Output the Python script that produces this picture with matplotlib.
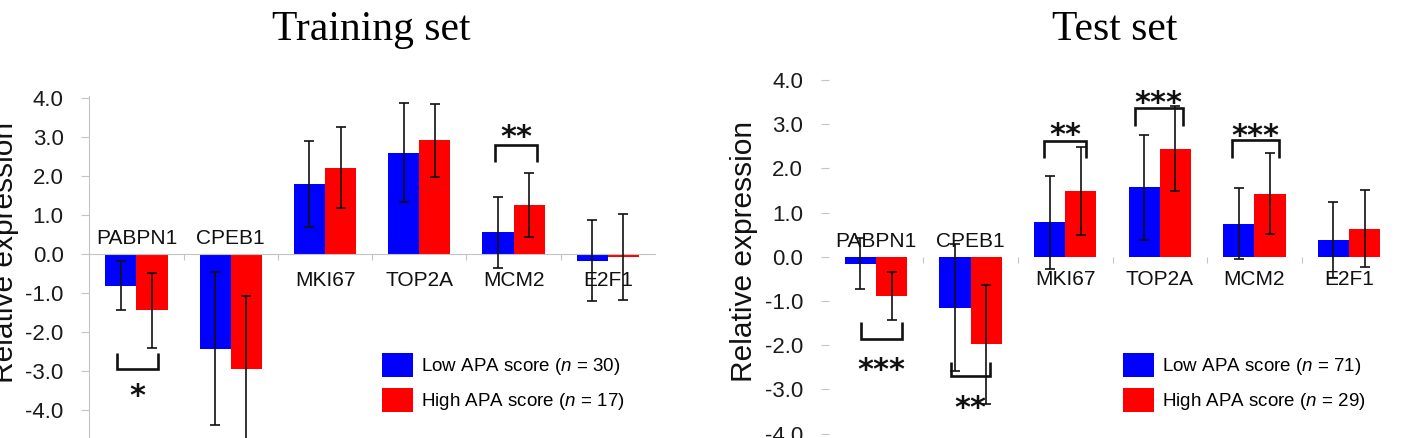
import matplotlib
matplotlib.use('Agg')
import matplotlib.pyplot as plt
from matplotlib.patches import Patch

plt.rcParams['font.family'] = ['Liberation Sans', 'DejaVu Sans']
plt.rcParams['mathtext.fontset'] = 'custom'
plt.rcParams['mathtext.it'] = 'Liberation Sans:italic'
plt.rcParams['mathtext.rm'] = 'Liberation Sans'

# ---------------- data ----------------
genes = ['PABPN1', 'CPEB1', 'MKI67', 'TOP2A', 'MCM2', 'E2F1']

train_low = [-0.82, -2.43, 1.79, 2.60, 0.56, -0.17]
train_low_err = [0.63, 1.96, 1.10, 1.28, 0.91, 1.04]
train_high = [-1.45, -2.94, 2.21, 2.91, 1.25, -0.07]
train_high_err = [0.96, 1.85, 1.04, 0.93, 0.82, 1.10]

test_low = [-0.16, -1.15, 0.78, 1.57, 0.75, 0.38]
test_low_err = [0.58, 1.43, 1.05, 1.18, 0.80, 0.86]
test_high = [-0.88, -1.98, 1.49, 2.45, 1.43, 0.64]
test_high_err = [0.54, 1.34, 1.00, 0.96, 0.91, 0.87]

train_n = (30, 17)
test_n = (71, 29)

ytick_values = [4.0, 3.0, 2.0, 1.0, 0.0, -1.0, -2.0, -3.0, -4.0]

# significance: (gene index, left offset, right offset, bracket level, bracket end, stars, star level)
train_sig = [(0, -0.205, 0.23, -2.96, -2.55, '*', -3.44),
             (4, -0.20, 0.25, 2.80, 2.37, '**', 3.19)]
test_sig = [(0, -0.16, 0.27, -1.85, -1.47, '***', -2.38),
            (1, -0.21, 0.20, -2.70, -2.38, '**', -3.24),
            (2, -0.22, 0.22, 2.62, 2.23, '**', 2.94),
            (3, -0.26, 0.24, 3.36, 2.96, '***', 3.66),
            (4, -0.24, 0.26, 2.64, 2.23, '***', 2.90)]

# ---------------- figure ----------------
W, H = 1408, 438
fig = plt.figure(figsize=(W / 100, H / 100), dpi=100)

BLUE = '#0000ff'
RED = '#ff0000'
GRAY = '#c4c4c4'


def panel(rect, ylim, low, low_err, high, high_err, sig, above_y, below_y, show_spines):
    ax = fig.add_axes(rect)
    x = list(range(len(genes)))
    w = 0.33
    xl = [i - w / 2 for i in x]
    xh = [i + w / 2 for i in x]
    ax.bar(xl, low, width=w, color=BLUE, zorder=2)
    ax.bar(xh, high, width=w, color=RED, zorder=2)
    ekw = dict(fmt='none', ecolor='#111111', elinewidth=1.2, capsize=3.3, capthick=1.2, zorder=3)
    ax.errorbar(xl, low, yerr=low_err, **ekw)
    ax.errorbar(xh, high, yerr=high_err, **ekw)

    ax.set_xlim(-0.5, len(genes) - 0.5)
    ax.set_ylim(*ylim)
    ax.set_yticks(ytick_values)
    ax.set_yticklabels([f'{v:.1f}' for v in ytick_values])
    ax.tick_params(axis='y', length=5.5, width=0.8, color=GRAY, pad=13,
                   labelsize=16, labelcolor='#1a1a1a')
    ax.set_xticks([i + 0.5 for i in x[:-1]])
    ax.set_xticklabels([])
    ax.tick_params(axis='x', length=4, width=0.8, color=GRAY, direction='out')

    ax.spines['top'].set_visible(False)
    ax.spines['right'].set_visible(False)
    ax.spines['bottom'].set_position(('data', 0))
    ax.spines['bottom'].set_color(GRAY)
    ax.spines['left'].set_color(GRAY)
    if not show_spines:
        ax.spines['bottom'].set_visible(False)
        ax.spines['left'].set_visible(False)
    ax.patch.set_alpha(0)

    for i, g in enumerate(genes):
        yy = above_y if min(low[i], high[i]) < -0.5 else below_y
        ax.text(i, yy, g, ha='center', va='center', fontsize=15, color='#111111', zorder=4)

    for gi, o0, o1, ybar, yend, stars, ystar in sig:
        x0, x1 = gi + o0, gi + o1
        ax.plot([x0, x0, x1, x1], [yend, ybar, ybar, yend], color='#111111', lw=1.9,
                solid_joinstyle='miter', solid_capstyle='butt', zorder=5)
        ax.annotate(stars, xy=((x0 + x1) / 2, ystar), xytext=(0, -12.1),
                    textcoords='offset points', ha='center', va='baseline',
                    fontsize=22, fontfamily='DejaVu Sans', fontweight='bold', color='#111111')
    return ax


# left panel: x 89.3..655 px, y zero at 254, 39 px/unit
ax1 = panel([89.3 / W, 0, (655 - 89.3) / W, (438 - 96) / H], (-4.72, 4.05),
            train_low, train_low_err, train_high, train_high_err, train_sig,
            0.40, -0.69, True)
# right panel: x 828.7..1396.3 px, y zero at 256.7, 44.2 px/unit
ax2 = panel([828.7 / W, 0, (1396.3 - 828.7) / W, (438 - 80) / H], (-4.1, 4.0),
            test_low, test_low_err, test_high, test_high_err, test_sig,
            0.34, -0.51, False)

# titles
fig.text(371.7 / W, 1 - 40 / H, 'Training set', ha='center', va='baseline',
         fontsize=30, family='Liberation Serif')
fig.text(1115 / W, 1 - 40 / H, 'Test set', ha='center', va='baseline',
         fontsize=30, family='Liberation Serif')

# y labels
fig.text(19 / W, 1 - 252.5 / H, 'Relative expression', rotation=90, ha='right', va='center',
         fontsize=21.5, color='#111111')
fig.text(758.3 / W, 1 - 251.7 / H, 'Relative expression', rotation=90, ha='right', va='center',
         fontsize=21.5, color='#111111')

# legends
def add_legend(x_px, y_px, n):
    handles = [Patch(facecolor=BLUE), Patch(facecolor=RED)]
    labels = [f'Low APA score ($n$ = {n[0]})', f'High APA score ($n$ = {n[1]})']
    fig.legend(handles, labels, loc='upper left', bbox_to_anchor=(x_px / W, 1 - y_px / H),
               frameon=False, fontsize=13.5, handlelength=1.65, handleheight=1.6,
               handletextpad=0.43, labelspacing=0.59, borderpad=0, borderaxespad=0)


add_legend(382.3, 352.7, train_n)
add_legend(1123.3, 352.7, test_n)

fig.savefig('out.png', dpi=100)
